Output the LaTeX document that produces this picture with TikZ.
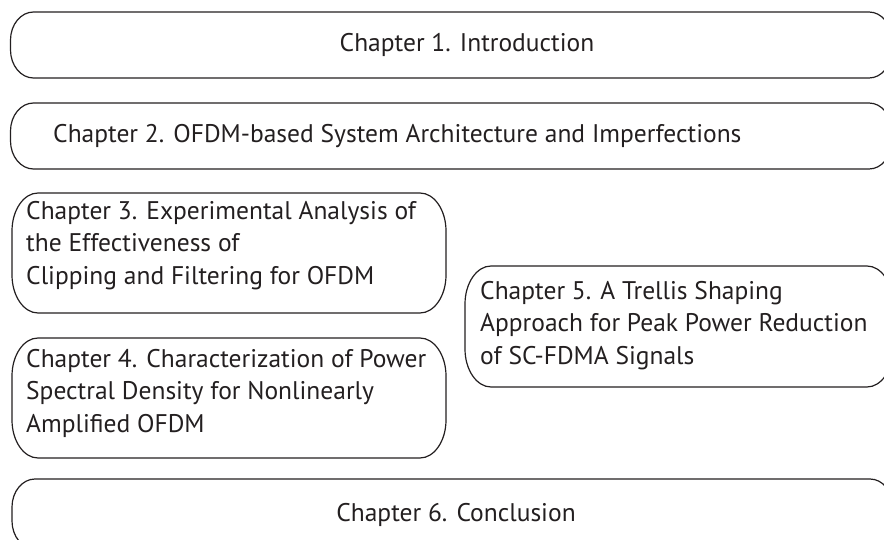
\documentclass[tikz,border=0pt]{standalone}
\usepackage{fontspec}
\setmainfont{PT Sans}
\definecolor{ink}{HTML}{231F20}
% #1 name, #2 x1, #3 y1, #4 x2, #5 y2, #6 rx, #7 ry
\newcommand\chbox[7]{%
\node[inner sep=0pt, minimum width={#4-#2}, minimum height={#5-#3}, anchor=north west] (#1) at (#2,#3) {};
\draw[boxline] ({#2+#6},#3) -- ({#4-#6},#3)
 .. controls ({#4-0.45*#6},#3) and (#4,{#3+0.45*#7}) .. (#4,{#3+#7})
 -- (#4,{#5-#7})
 .. controls (#4,{#5-0.45*#7}) and ({#4-0.45*#6},#5) .. ({#4-#6},#5)
 -- ({#2+#6},#5)
 .. controls ({#2+0.45*#6},#5) and (#2,{#5-0.45*#7}) .. (#2,{#5-#7})
 -- (#2,{#3+#7})
 .. controls (#2,{#3+0.45*#7}) and ({#2+0.45*#6},#3) .. ({#2+#6},#3) -- cycle;}
\begin{document}
\begin{tikzpicture}[x=1pt,y=-1pt,
  boxline/.style={draw=ink, line width=1.2pt},
  txt/.style={text=ink, font=\fontsize{25.5}{32.5}\selectfont, inner sep=0pt},
  lft/.style={txt, anchor=north west, align=left}]
\useasboundingbox (0,0) rectangle (884,540);
\clip (0,0) rectangle (884,540);
\chbox{b1}{10.5}{12}{892}{78}{23}{28}
\chbox{b2}{10.5}{103}{892}{169}{23}{28}
\chbox{b3}{12}{193}{446}{313}{26}{38}
\chbox{b4}{12}{338}{446}{458}{26}{38}
\chbox{b5}{465}{266}{893}{387}{26}{38}
\chbox{b6}{12}{479}{893}{549}{23}{28}
\node[txt] (t1) at (467,45) {Chapter 1. Introduction};
\node[txt, anchor=west] (t2) at (53,136) {Chapter 2. OFDM-based System Architecture and Imperfections};
\node[lft] (t3) at (26,201) {Chapter 3. Experimental Analysis of\\the Effectiveness of\\Clipping and Filtering for OFDM};
\node[lft] (t4) at (26,349) {Chapter 4. Characterization of Power\\Spectral Density for Nonlinearly\\Amplified OFDM};
\node[lft] (t5) at (480,281) {Chapter 5. A Trellis Shaping\\Approach for Peak Power Reduction\\of SC-FDMA Signals};
\node[txt] (t6) at (456,515) {Chapter 6. Conclusion};
\end{tikzpicture}
\end{document}
